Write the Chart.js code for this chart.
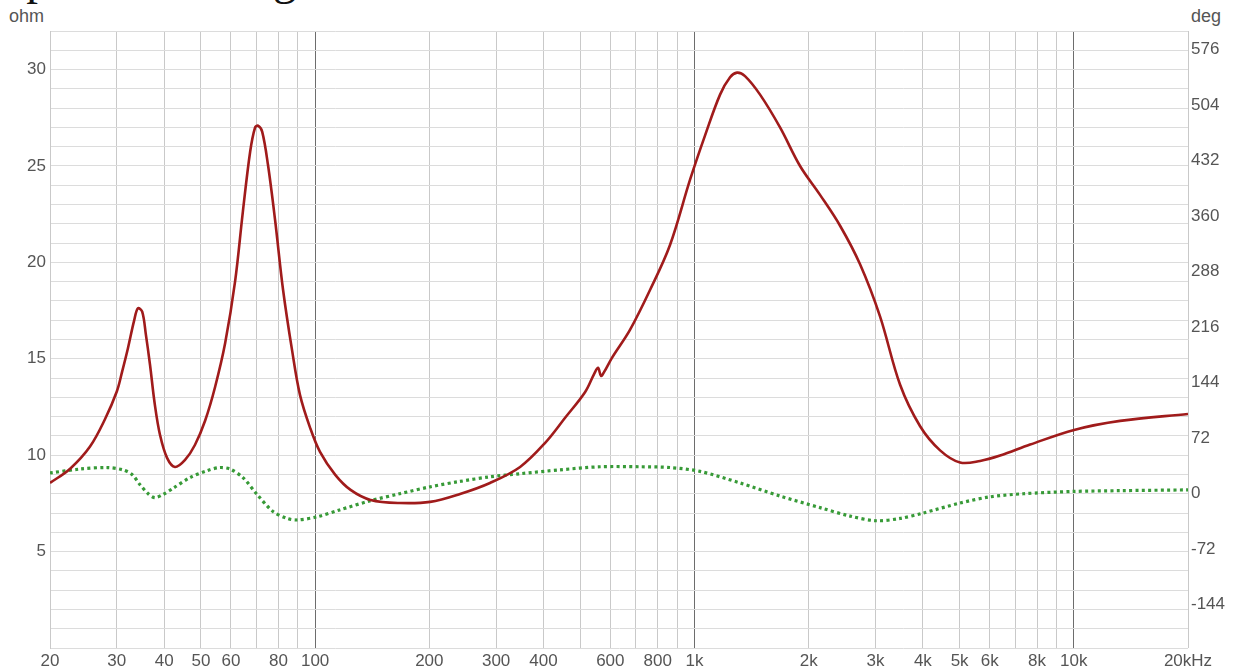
<!DOCTYPE html>
<html>
<head>
<meta charset="utf-8">
<script src="https://cdn.jsdelivr.net/npm/chart.js@4.4.1/dist/chart.umd.min.js"></script>
<style>
  html, body { margin: 0; padding: 0; background: #fff; overflow: hidden; }
  #wrap { position: relative; width: 1233px; height: 672px; overflow: hidden; }
  #title { position: absolute; left: 0; top: -45px; margin: 0; font-family: "Liberation Serif", "DejaVu Serif", serif;
           font-weight: normal; font-size: 47px; line-height: 47px; color: #111; white-space: nowrap; }
  .unit { position: absolute; font-family: "Liberation Sans", Arial, sans-serif; font-size: 18px; line-height: 21px; color: #555; }
  canvas { position: absolute; left: 0; top: 0; }
</style>
</head>
<body>
<div id="wrap">
  <h1 id="title">Speaker Tuning</h1>
  <div class="unit" style="left:9px; top:6px;">ohm</div>
  <div class="unit" style="left:1191px; top:6px;">deg</div>
  <canvas id="chart" width="1233" height="672"></canvas>
</div>
<script>
// Impedance magnitude (ohm) against frequency (Hz)
const freqZ = [20, 22.6, 25.5, 27.9, 30, 31, 32.1, 33.3, 34.1, 35, 35.8, 36.7, 37.8, 39, 40.7, 42.7, 45.4, 48.2, 51.3, 54.5, 57.9,
  61.5, 64.5, 67.4, 69.4, 70.7, 72.5, 75.1, 78.4, 82.3, 86.9, 91.2, 97, 103, 113, 124, 140, 167, 201, 241, 289,
  347, 404, 456, 515, 544, 557, 567, 578, 606, 676, 764, 862, 974, 1067, 1168, 1241, 1295, 1359, 1489, 1681,
  1898, 2143, 2420, 2732, 3084, 3484, 3934, 4441, 5014, 5662, 6393, 7670, 10018, 13244, 20000];
const ohms = [8.56, 9.30, 10.45, 11.85, 13.30, 14.35, 15.55, 16.95, 17.62, 17.44, 16.24, 14.69, 12.61, 11.05, 9.86, 9.39, 9.76, 10.53, 11.80, 13.55, 15.80,
  19.00, 22.65, 25.74, 26.98, 27.09, 26.78, 25.06, 22.21, 18.58, 15.46, 13.13, 11.42, 10.17, 8.98, 8.20, 7.68, 7.52, 7.58, 7.99, 8.56,
  9.39, 10.64, 11.94, 13.28, 14.22, 14.53, 14.11, 14.32, 15.05, 16.50, 18.58, 20.90, 24.30, 26.60, 28.70, 29.60, 29.84, 29.66, 28.70, 27.00,
  25.00, 23.50, 21.90, 19.90, 17.20, 13.65, 11.50, 10.25, 9.62, 9.70, 9.98, 10.55, 11.31, 11.78, 12.14];

// Impedance phase (degrees) against frequency (Hz)
const freqP = [20, 24, 28.3, 31.1, 32.9, 34.5, 36.3, 37.8, 39.7, 42.2, 46.8, 51.9, 56.1, 59.7, 64.5, 70.3, 77.4, 84.3, 89.6, 101,
  116, 140, 167, 201, 241, 289, 347, 442, 564, 719, 862, 1034, 1318, 1681, 2143, 2572, 3010, 3484, 4006, 5014,
  6018, 7350, 10000, 13244, 20000];
const degs = [27, 32, 34, 31, 25, 12, 0, -5, -1, 7, 21, 30, 34, 32, 21, -1, -23, -32, -34, -30,
  -21, -9, 0, 9, 16, 22, 26, 31, 35, 35, 34, 29, 14, -3, -18, -29, -35, -32, -25, -12,
  -4, 0, 3, 4, 5];

// Frequency grid and its labels
const gridFreqs = [20, 30, 40, 50, 60, 70, 80, 90, 100, 200, 300, 400, 500, 600, 700, 800, 900,
  1000, 2000, 3000, 4000, 5000, 6000, 7000, 8000, 9000, 10000, 20000];
const labelFreqs = [20, 30, 40, 50, 60, 80, 100, 200, 300, 400, 600, 800, 1000, 2000, 3000, 4000, 5000, 6000, 8000, 10000, 20000];
const labelTexts = ['20', '30', '40', '50', '60', '80', '100', '200', '300', '400', '600', '800', '1k', '2k', '3k', '4k', '5k', '6k', '8k', '10k', '20kHz'];
const decadeFreqs = [100, 1000, 10000];

// Phase axis ticks
const degTicks = [-144, -72, 0, 72, 144, 216, 288, 360, 432, 504, 576];

const zPoints = freqZ.map((f, i) => ({ x: f, y: ohms[i] }));
const pPoints = freqP.map((f, i) => ({ x: f, y: degs[i] }));

const tickFont = { family: '"Liberation Sans", Arial, sans-serif', size: 17 };

new Chart(document.getElementById('chart'), {
  type: 'scatter',
  data: {
    datasets: [
      {
        label: 'Impedance',
        data: zPoints,
        yAxisID: 'y',
        showLine: true,
        borderColor: '#a01b1b',
        borderWidth: 2.6,
        pointRadius: 0,
        tension: 0.35,
        order: 1
      },
      {
        label: 'Phase',
        data: pPoints,
        yAxisID: 'y2',
        showLine: true,
        borderColor: '#379a37',
        borderWidth: 3.2,
        borderDash: [3, 3.3],
        pointRadius: 0,
        tension: 0.3,
        order: 2
      }
    ]
  },
  options: {
    responsive: false,
    animation: false,
    events: [],
    layout: { padding: { top: 31, left: 0, right: 0, bottom: 0 } },
    plugins: { legend: { display: false }, tooltip: { enabled: false }, title: { display: false } },
    scales: {
      x: {
        type: 'logarithmic',
        min: 20,
        max: 20000,
        afterBuildTicks: s => { s.ticks = gridFreqs.map(v => ({ value: v })); },
        afterFit: s => { s.height = 24; },
        ticks: {
          autoSkip: false,
          maxRotation: 0,
          padding: 3,
          color: '#555',
          font: tickFont,
          callback: v => { const i = labelFreqs.indexOf(v); return i >= 0 ? labelTexts[i] : ''; }
        },
        grid: {
          drawTicks: false,
          color: c => (c.tick && decadeFreqs.includes(c.tick.value)) ? '#6d6d6d' : '#c9c9c9',
          lineWidth: 1
        },
        border: { display: false }
      },
      y: {
        position: 'left',
        min: 0,
        max: 32,
        afterFit: s => { s.width = 50; },
        ticks: {
          stepSize: 1,
          autoSkip: false,
          padding: 4,
          color: '#555',
          font: tickFont,
          callback: v => (v > 0 && v % 5 === 0) ? String(v) : ''
        },
        grid: { drawTicks: false, color: '#dcdcdc', lineWidth: 1 },
        border: { display: true, color: '#c9c9c9' }
      },
      y2: {
        position: 'right',
        min: -200,
        max: 600,
        afterBuildTicks: s => { s.ticks = degTicks.map(v => ({ value: v })); },
        afterFit: s => { s.width = 45; },
        ticks: {
          autoSkip: false,
          padding: 3,
          color: '#555',
          font: tickFont
        },
        grid: { drawOnChartArea: false, drawTicks: false },
        border: { display: false }
      }
    }
  }
});
</script>
</body>
</html>
